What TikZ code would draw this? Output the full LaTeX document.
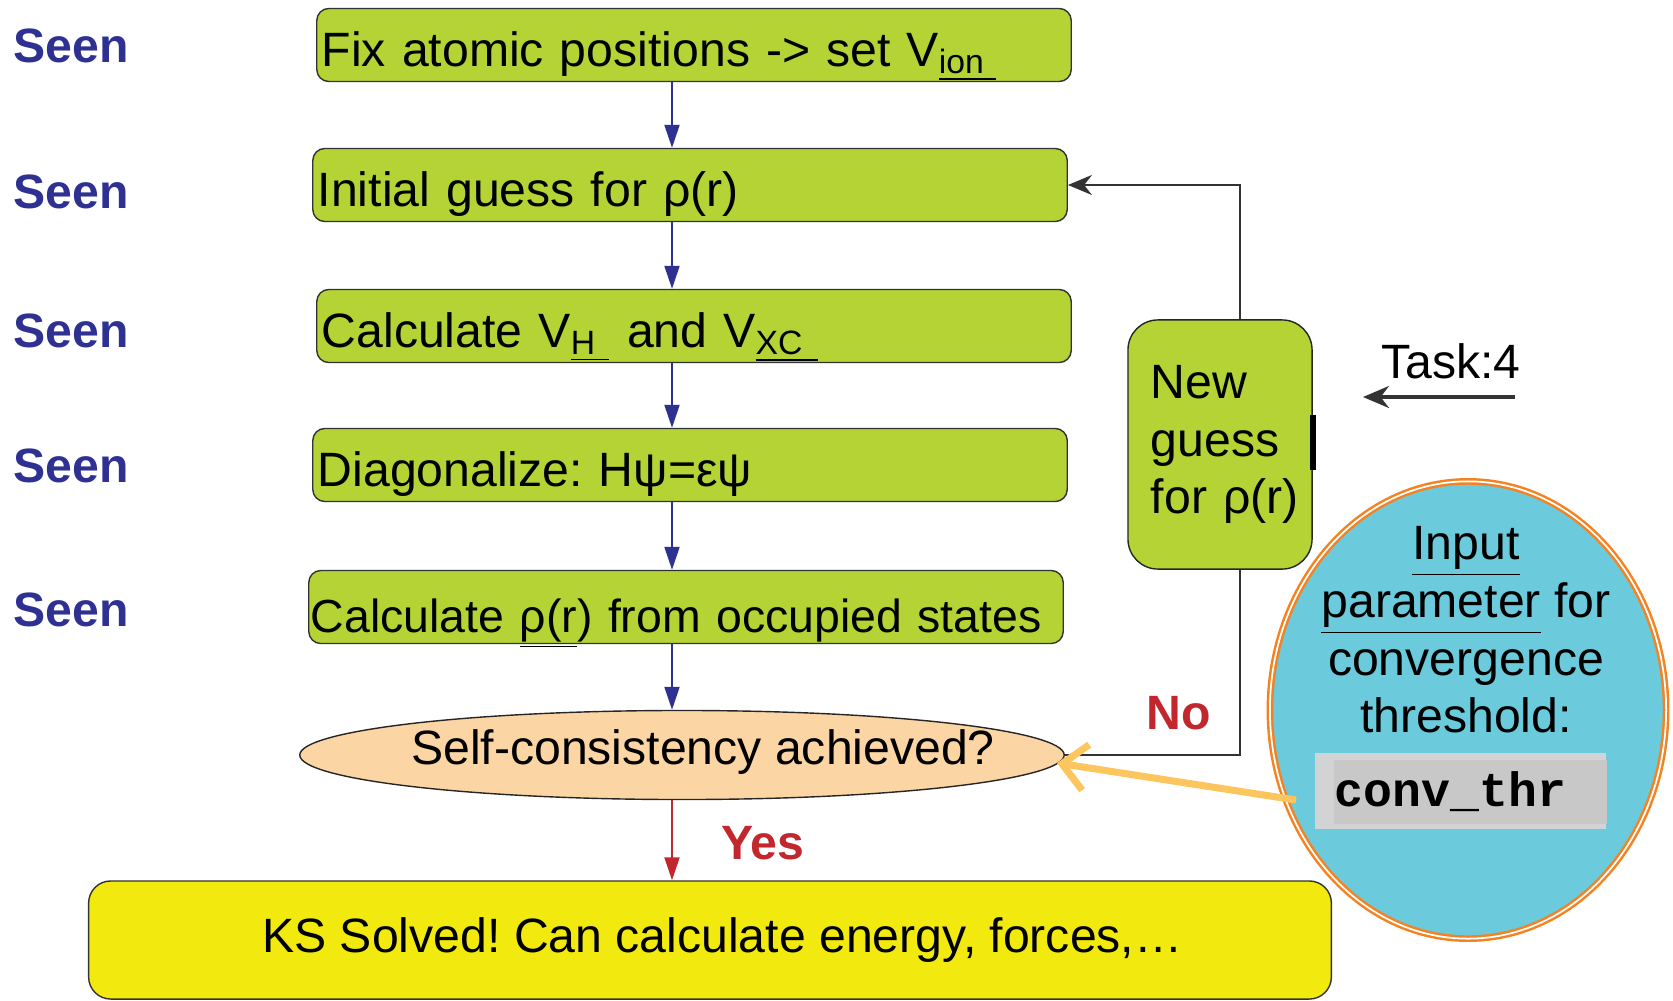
\documentclass[tikz,border=0pt]{standalone}
\usepackage{fontspec}
\setmainfont{Liberation Sans}
\setmonofont{Liberation Mono}
\usetikzlibrary{arrows.meta,positioning,shapes.geometric,calc}
\definecolor{stepgreen}{HTML}{B5D334}
\definecolor{seenblue}{HTML}{2E3192}
\definecolor{answerred}{HTML}{C1272D}
\definecolor{decisionfill}{HTML}{FCD5A4}
\definecolor{doneyellow}{HTML}{F2EA0F}
\definecolor{bubblecyan}{HTML}{6BCADB}
\definecolor{borderorange}{HTML}{F58220}
\definecolor{hintyellow}{HTML}{FDC55E}
\definecolor{codelight}{HTML}{D1D3D4}
\definecolor{codegray}{HTML}{C8C8C8}
\newcommand\diagfont{\fontsize{13.7pt}{16.4pt}\selectfont\frenchspacing}

\begin{document}
\begin{tikzpicture}[x=0.01cm,y=-0.01cm,
    font=\diagfont,
    stepbox/.style={draw=black!80,fill=stepgreen,rounded corners=1.2mm,
      minimum height=7.3mm,text width=74.4mm,inner xsep=0.5mm,inner ysep=0.5mm,align=left,
      text height=4.2mm,text depth=0pt},
    seen/.style={font=\diagfont\bfseries,text=seenblue,anchor=west,inner sep=0pt},
    answer/.style={font=\diagfont\bfseries,text=answerred},
    flowarrow/.style={color=seenblue,line width=0.6pt,-{Triangle[length=2.3mm,width=1.5mm]}},
    backline/.style={draw=black!80,line width=0.5pt}]

  \useasboundingbox (0,0) rectangle (1673,1000);
  \coordinate (spine) at (672,0);
  \coordinate (backx) at (1240,0);

  % SCF cycle
  \node[stepbox] (b1) at (694,45) {Fix atomic positions -> set V\textsubscript{\underline{ion\hspace{1.2mm}}}};
  \node[stepbox] (b2) at (690,185) {Initial guess for ρ(r)};
  \node[stepbox] (b3) at (694,326) {Calculate V\textsubscript{\underline{H\hspace{1.4mm}}} and V\textsubscript{\underline{XC\hspace{1.6mm}}}};
  \node[stepbox] (b4) at (690,465) {Diagonalize: Hψ=εψ};
  \node[stepbox,text height=5mm,text width=75mm,inner xsep=0.2mm,font=\fontsize{13.2pt}{16pt}\selectfont\frenchspacing]
    (b5) at (686,607) {Calculate \underline{ρ(r}) from occupied states};
  \node[ellipse,fill=decisionfill,draw=black!85,minimum width=76.4mm,minimum height=8.9mm,inner sep=0pt]
    (scf) at (682,755) {};
  \node (scftext) at (703,752) {Self-consistency achieved?};
  \node[fill=doneyellow,draw=black!80,rounded corners=2.2mm,minimum width=124.2mm,minimum height=11.8mm]
    (done) at (710,940) {\hspace*{2.5mm}KS Solved! Can calculate energy, forces,…};

  \foreach \n/\y in {1/46,2/192,3/331,4/466,5/610}
    \node[seen] (seen\n) at (13,\y) {Seen};

  \foreach \a/\b in {b1/b2,b2/b3,b3/b4,b4/b5,b5/scf}
    \draw[flowarrow] (\a.south -| spine) -- (\b.north -| spine);
  \draw[flowarrow,color=answerred] (scf.south -| spine) -- (done.north -| spine);
  \node[answer] (yes) at (763,843) {Yes};
  \node[answer] (no) at (1179,713) {No};

  % back to a new density
  \node[draw=black!85,fill=stepgreen,rounded corners=3mm,minimum width=18.4mm,minimum height=24.9mm,
    text width=13.8mm,inner xsep=2.3mm,align=left] (guess) at (1220,444.5) {New\\guess\\for~ρ(r)};
  \draw[line width=0.6mm] ($(guess.east)+(0,-30)$) -- ($(guess.east)+(0,25)$);
  \draw[backline] (scf.east) -- (scf.east -| backx) -- (guess.south -| backx);
  \draw[backline,-{Stealth[length=2.4mm,width=2mm]}] (guess.north -| backx) |- (b2.east);

  % task hint
  \node (task) at (1451,361) {Task:4};
  \coordinate (taskfrom) at (1515,397);
  \coordinate (taskto) at (1363,397);
  \draw[backline,line width=1pt,-{Stealth[length=2.6mm,width=2.2mm]}] (taskfrom) -- (taskto);

  % input parameter
  \node[ellipse,fill=bubblecyan,draw=borderorange,double=white,double distance=0.5pt,line width=0.7pt,
    minimum width=39.6mm,minimum height=45.7mm,inner sep=0pt] (bubble) at (1468,710) {};
  \node[align=center] (bubbletext) at (1466,630) {\underline{Input}\\\underline{parameter} for\\convergence\\threshold:};
  \fill[codelight] (1315,753) rectangle (1606,829);
  \node[anchor=west,fill=codegray,minimum height=5.2mm,text width=27.1mm,inner xsep=0.1mm,align=left,
    font=\diagfont\ttfamily\bfseries] (conv) at (1333,792) {conv\_thr};
  \draw[hintyellow,line width=2pt,-{Straight Barb[length=2.4mm,width=4.6mm]}]
    ($(conv.west)+(-37,8)$) -- ($(scf.east)+(-8,8)$);
\end{tikzpicture}
\end{document}
